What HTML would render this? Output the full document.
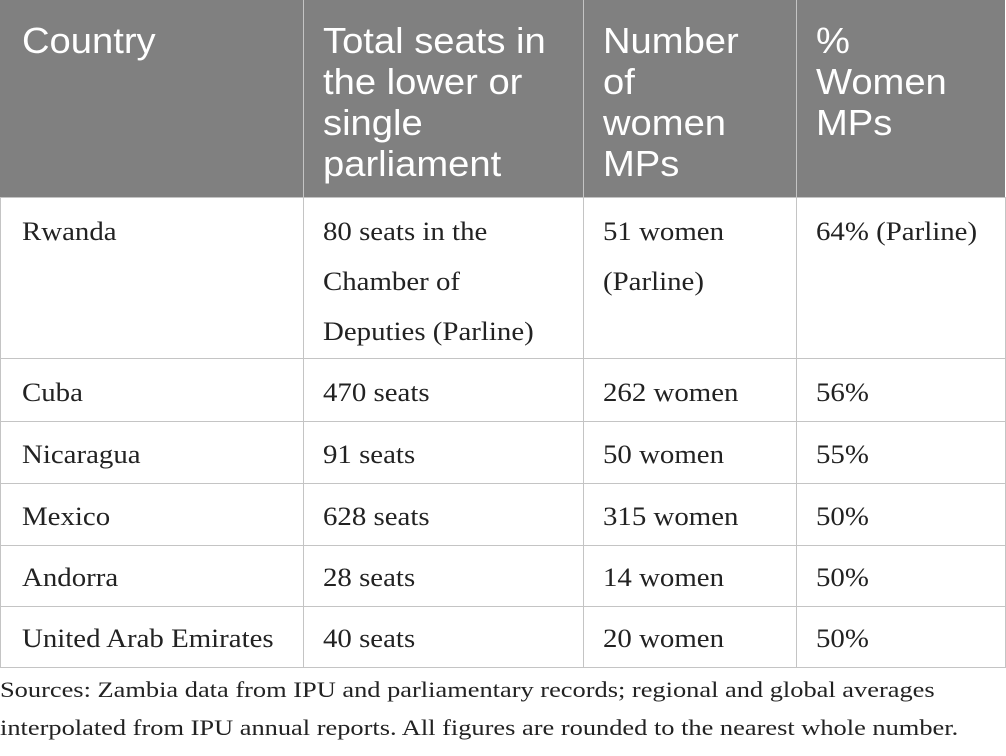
<!DOCTYPE html>
<html><head><meta charset="utf-8"><style>
body{margin:0;width:1006px;height:756px;background:#fff;position:relative;overflow:hidden}
.h{position:absolute;top:0;left:0;width:1005px;height:197px;background:#808080}
.t{position:absolute;white-space:nowrap;transform-origin:0 0}
.hd{font-family:"Liberation Sans",sans-serif;font-size:36px;color:#fff;line-height:41px;transform:scaleX(1.06)}
.bd{font-family:"Liberation Serif",serif;font-size:26px;color:#222;line-height:50px;transform:scaleX(1.11)}
.vl{position:absolute;width:1px;background:#c4c4c4}
.hl{position:absolute;height:1px;background:#c4c4c4;left:0;width:1006px}
.ft{font-family:"Liberation Serif",serif;font-size:22px;color:#222;line-height:38px;transform:scaleX(1.2)}
</style></head><body>
<div class="h"></div>
<div class="vl" style="left:303px;top:0;height:667px"></div>
<div class="vl" style="left:583px;top:0;height:667px"></div>
<div class="vl" style="left:796px;top:0;height:667px"></div>
<div class="vl" style="left:0;top:197px;height:470px"></div>
<div class="vl" style="left:1005px;top:197px;height:470px"></div>
<div class="hl" style="top:197px"></div>
<div class="hl" style="top:358px"></div>
<div class="hl" style="top:421px"></div>
<div class="hl" style="top:483px"></div>
<div class="hl" style="top:545px"></div>
<div class="hl" style="top:606px"></div>
<div class="hl" style="top:667px"></div>

<div class="t hd" style="left:22px;top:20px">Country</div>
<div class="t hd" style="left:323px;top:20px">Total seats in<br>the lower or<br>single<br>parliament</div>
<div class="t hd" style="left:603px;top:20px">Number<br>of<br>women<br>MPs</div>
<div class="t hd" style="left:816px;top:20px">%<br>Women<br>MPs</div>

<div class="t bd" style="left:22px;top:207px">Rwanda</div>
<div class="t bd" style="left:323px;top:207px">80 seats in the<br>Chamber of<br>Deputies (Parline)</div>
<div class="t bd" style="left:603px;top:207px">51 women<br>(Parline)</div>
<div class="t bd" style="left:816px;top:207px">64% (Parline)</div>

<div class="t bd" style="left:22px;top:368px">Cuba</div>
<div class="t bd" style="left:323px;top:368px">470 seats</div>
<div class="t bd" style="left:603px;top:368px">262 women</div>
<div class="t bd" style="left:816px;top:368px">56%</div>

<div class="t bd" style="left:22px;top:430px">Nicaragua</div>
<div class="t bd" style="left:323px;top:430px">91 seats</div>
<div class="t bd" style="left:603px;top:430px">50 women</div>
<div class="t bd" style="left:816px;top:430px">55%</div>

<div class="t bd" style="left:22px;top:492px">Mexico</div>
<div class="t bd" style="left:323px;top:492px">628 seats</div>
<div class="t bd" style="left:603px;top:492px">315 women</div>
<div class="t bd" style="left:816px;top:492px">50%</div>

<div class="t bd" style="left:22px;top:553px">Andorra</div>
<div class="t bd" style="left:323px;top:553px">28 seats</div>
<div class="t bd" style="left:603px;top:553px">14 women</div>
<div class="t bd" style="left:816px;top:553px">50%</div>

<div class="t bd" style="left:22px;top:614px">United Arab Emirates</div>
<div class="t bd" style="left:323px;top:614px">40 seats</div>
<div class="t bd" style="left:603px;top:614px">20 women</div>
<div class="t bd" style="left:816px;top:614px">50%</div>

<div class="t ft" style="left:0;top:671px">Sources: Zambia data from IPU and parliamentary records; regional and global averages<br>interpolated from IPU annual reports. All figures are rounded to the nearest whole number.</div>
</body></html>
